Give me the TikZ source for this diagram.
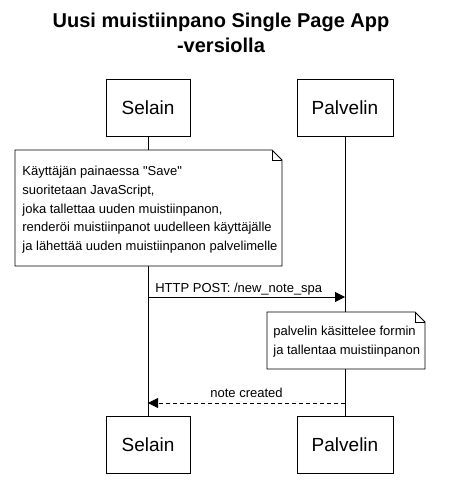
\documentclass[tikz,border=0pt]{standalone}
\usepackage{fontspec}
\setmainfont{Liberation Sans}
\usetikzlibrary{arrows.meta}

\tikzset{
    actor/.style={draw, minimum width=84pt, minimum height=57pt, inner sep=0pt, font=\fontsize{19}{23}\selectfont},
    notetext/.style={inner sep=0pt, align=left, anchor=north west, font=\fontsize{13}{18.6}\selectfont},
    msglabel/.style={inner sep=0pt, font=\fontsize{13}{16}\selectfont},
    msg/.style={-{Triangle[length=10pt,width=10pt]}},
    reply/.style={msg, dash pattern=on 4pt off 3pt}
}

\begin{document}
\begin{tikzpicture}[x=1pt, y=-1pt, line width=0.8pt]
    \useasboundingbox (0,0) rectangle (460,482);
    \node[font=\bfseries\fontsize{20}{25}\selectfont, align=center] (title) at (221,33) {Uusi muistiinpano Single Page App\\-versiolla};
    \node[actor] (selainTop) at (148,107.5) {Selain};
    \node[actor, minimum width=96pt] (palvelinTop) at (345,107.5) {Palvelin};
    \node[actor] (selainBot) at (148,445) {Selain};
    \node[actor, minimum width=96pt] (palvelinBot) at (345,445) {Palvelin};
    \draw (selainTop) -- (selainBot);
    \draw (palvelinTop) -- (palvelinBot);
    \draw[fill=white] (15,150) -- (272,150) -- (282,160) -- (282,266) -- (15,266) -- cycle;
    \draw (272,150) -- (272,160) -- (282,160);
    \node[notetext] (note1) at (22,166) {Käyttäjän painaessa \textquotedbl Save\textquotedbl\\suoritetaan JavaScript,\\joka tallettaa uuden muistiinpanon,\\renderöi muistiinpanot uudelleen käyttäjälle\\ja lähettää uuden muistiinpanon palvelimelle};
    \coordinate (postFrom) at (148,297);
    \coordinate (postTo) at (345,297);
    \draw[msg] (postFrom) -- (postTo) node[msglabel, pos=0.035, anchor=base west, yshift=5pt] (postLabel) {HTTP POST: /new\_note\_spa};
    \draw[fill=white] (267,312) -- (415,312) -- (425,322) -- (425,369) -- (267,369) -- cycle;
    \draw (415,312) -- (415,322) -- (425,322);
    \node[notetext] (note2) at (273,326) {palvelin käsittelee formin\\ja tallentaa muistiinpanon};
    \coordinate (replyFrom) at (345,403);
    \coordinate (replyTo) at (148,403);
    \draw[reply] (replyFrom) -- (replyTo) node[msglabel, midway, anchor=base, yshift=6pt] (replyLabel) {note created};
\end{tikzpicture}
\end{document}
